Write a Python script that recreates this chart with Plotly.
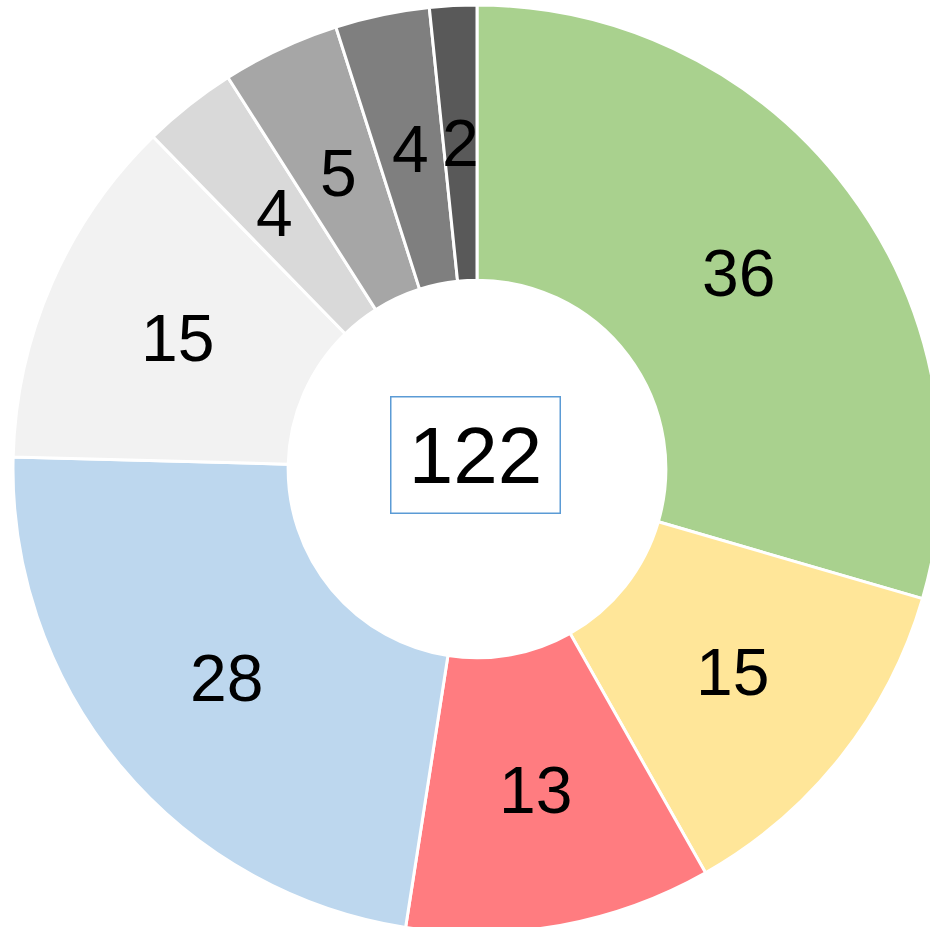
import math
import plotly.graph_objects as go

categories = ["A", "B", "C", "D", "E", "F", "G", "H", "I"]
values = [36, 15, 13, 28, 15, 4, 5, 4, 2]
colors = ["#A9D18E", "#FFE699", "#FF7C80", "#BDD7EE", "#F2F2F2",
          "#D9D9D9", "#A6A6A6", "#7F7F7F", "#595959"]
total_label = str(sum(values))

W, H = 954, 938
cx, cy, R = 477, 469, 464
HOLE = 0.407
FONT = "Arial, Liberation Sans, sans-serif"

fig = go.Figure(go.Pie(
    labels=categories,
    values=values,
    sort=False,
    direction="clockwise",
    rotation=0,
    hole=HOLE,
    marker=dict(colors=colors, line=dict(color="white", width=3)),
    textinfo="none",
    domain=dict(x=[(cx - R) / W, (cx + R) / W], y=[(H - cy - R) / H, (H - cy + R) / H]),
    showlegend=False,
    hoverinfo="label+value",
))

# value labels at the middle of each ring segment
total = sum(values)
r_lab = R * (1 + HOLE) / 2
cum = 0
for v in values:
    mid = (cum + v / 2) / total * 2 * math.pi
    cum += v
    px = cx + r_lab * math.sin(mid)
    py = cy - r_lab * math.cos(mid)
    fig.add_annotation(
        x=px / W, y=1 - py / H, xref="paper", yref="paper",
        text=str(v), showarrow=False, xanchor="center", yanchor="middle",
        font=dict(family=FONT, size=66, color="black"),
    )

fig.add_annotation(
    x=475.5 / W, y=1 - 455 / H, xref="paper", yref="paper",
    text=total_label, showarrow=False,
    font=dict(family=FONT, size=80, color="black"),
    bordercolor="#5B9BD5", borderwidth=1.5, width=166, height=113,
    bgcolor="rgba(0,0,0,0)", align="center", valign="middle",
)

fig.update_layout(
    width=W, height=H,
    margin=dict(l=0, r=0, t=0, b=0),
    paper_bgcolor="white", plot_bgcolor="white",
)

fig.write_html(
    "out.html",
    config={"displayModeBar": False},
    post_script="document.body.style.margin='0';document.body.style.overflow='hidden';document.documentElement.style.overflow='hidden';",
)
